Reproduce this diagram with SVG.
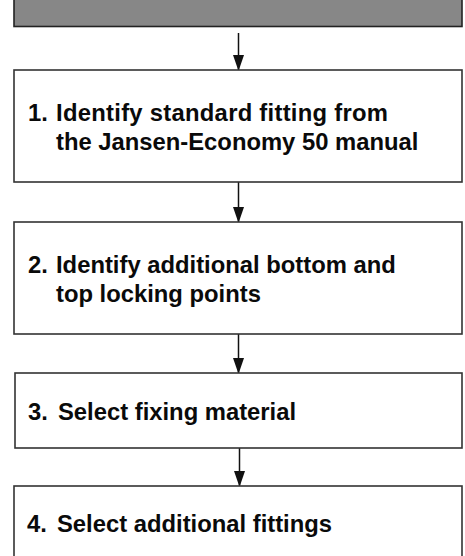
<svg xmlns="http://www.w3.org/2000/svg" width="465" height="556" viewBox="0 0 465 556">
<style>
.box{fill:#fff;stroke:#333;stroke-width:1.6}
.gray{fill:#878787;stroke:#222;stroke-width:1.6}
.t{font-family:"Liberation Sans",Arial,sans-serif;font-weight:bold;font-size:23.8px;fill:#0a0a0a}
.c{stroke:#111;stroke-width:1.5;fill:none;marker-end:url(#ah)}
</style>
<defs>
<marker id="ah" markerWidth="16" markerHeight="11" refX="15" refY="5.5" orient="auto" markerUnits="userSpaceOnUse" viewBox="0 0 16 11">
<path d="M0,0 L16,5.5 L0,11 Z" fill="#111"/>
</marker>
</defs>
<g id="connectors">
<line class="c" x1="238.5" y1="33" x2="238.5" y2="70"/>
<line class="c" x1="238.5" y1="182" x2="238.5" y2="222"/>
<line class="c" x1="238.5" y1="334" x2="238.5" y2="373"/>
<line class="c" x1="239.5" y1="448" x2="239.5" y2="486"/>
</g>
<g id="top">
<rect class="gray" x="14" y="-5" width="448" height="31.5"/>
</g>
<g id="step1">
<rect class="box" x="14" y="70" width="448" height="112"/>
<text class="t" x="28" y="121">1.</text>
<text class="t" x="56" y="121" textLength="332">Identify standard fitting from</text>
<text class="t" x="56" y="150">the Jansen-Economy 50 manual</text>
</g>
<g id="step2">
<rect class="box" x="14" y="222" width="448" height="112"/>
<text class="t" x="28" y="273">2.</text>
<text class="t" x="56" y="273">Identify additional bottom and</text>
<text class="t" x="56" y="302">top locking points</text>
</g>
<g id="step3">
<rect class="box" x="15" y="373" width="447" height="75"/>
<text class="t" x="28" y="420">3.</text>
<text class="t" x="58" y="420">Select fixing material</text>
</g>
<g id="step4">
<rect class="box" x="14" y="486" width="448" height="80"/>
<text class="t" x="27" y="532">4.</text>
<text class="t" x="57" y="532">Select additional fittings</text>
</g>
</svg>
